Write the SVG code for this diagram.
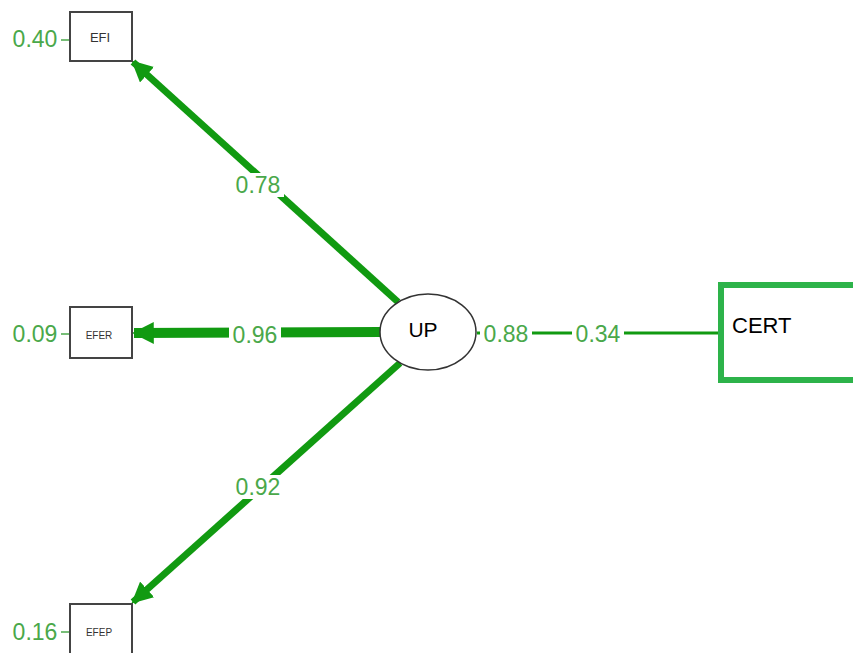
<svg xmlns="http://www.w3.org/2000/svg" width="853" height="653" viewBox="0 0 853 653">
<defs>
<style>
.box{fill:#fff;stroke:#444;stroke-width:2}
.lbl{font-family:"Liberation Sans",Arial,sans-serif;font-size:23px;fill:#4aa84a;text-anchor:middle;dominant-baseline:central}
.nm{font-family:"Liberation Sans",Arial,sans-serif;fill:#333;text-anchor:middle;dominant-baseline:central}
.arr{stroke:#119a11;fill:none}
.bg{fill:#fff}
</style>
<marker id="ah" viewBox="0 0 10 10" refX="9" refY="5" markerWidth="3" markerHeight="3" markerUnits="strokeWidth" orient="auto">
<path d="M0,0 L10,5 L0,10 Z" fill="#119a11"/>
</marker>
<marker id="ah2" viewBox="0 0 10 10" refX="9" refY="5" markerWidth="2.2" markerHeight="2.4" markerUnits="strokeWidth" orient="auto">
<path d="M0,0 L10,5 L0,10 Z" fill="#119a11"/>
</marker>
</defs>
<g id="connectors">
<line class="arr" x1="398" y1="302" x2="133" y2="62" stroke-width="7" marker-end="url(#ah)"/>
<line class="arr" x1="381" y1="332" x2="134" y2="333" stroke-width="10" marker-end="url(#ah2)"/>
<line class="arr" x1="400" y1="363" x2="133" y2="602" stroke-width="7" marker-end="url(#ah)"/>
<line class="arr" x1="477" y1="333" x2="719" y2="333" stroke-width="3"/>
<line stroke="#4aa84a" stroke-width="1.5" x1="61" y1="40" x2="70" y2="40"/>
<line stroke="#4aa84a" stroke-width="1.5" x1="61" y1="334" x2="70" y2="334"/>
<line stroke="#4aa84a" stroke-width="1.5" x1="61" y1="632" x2="70" y2="632"/>
<rect class="bg" x="232" y="173" width="52" height="24"/>
<text class="lbl" x="258" y="185">0.78</text>
<rect class="bg" x="229" y="323" width="52" height="24"/>
<text class="lbl" x="255" y="335">0.96</text>
<rect class="bg" x="232" y="475" width="52" height="24"/>
<text class="lbl" x="258" y="487">0.92</text>
<rect class="bg" x="480" y="322" width="52" height="24"/>
<text class="lbl" x="506" y="334">0.88</text>
<rect class="bg" x="572" y="322" width="52" height="24"/>
<text class="lbl" x="598" y="334">0.34</text>
</g>
<g id="EFI">
<rect class="box" x="70" y="12" width="62" height="49"/>
<text class="nm" x="100" y="37" font-size="13">EFI</text>
<text class="lbl" x="35" y="39">0.40</text>
</g>
<g id="EFER">
<rect class="box" x="70" y="307" width="62" height="51"/>
<text class="nm" x="99" y="335" font-size="10">EFER</text>
<text class="lbl" x="35" y="334">0.09</text>
</g>
<g id="EFEP">
<rect class="box" x="70" y="604" width="62" height="60"/>
<text class="nm" x="99" y="632" font-size="10">EFEP</text>
<text class="lbl" x="35" y="632">0.16</text>
</g>
<g id="UP">
<ellipse cx="428" cy="332" rx="48" ry="38" fill="#fff" stroke="#333" stroke-width="1.5"/>
<text class="nm" x="423" y="329" font-size="21" fill="#000" style="fill:#000">UP</text>
</g>
<g id="CERT">
<rect x="721" y="285" width="140" height="95" fill="#fff" stroke="#2db34a" stroke-width="6"/>
<text x="732" y="333" font-family="Liberation Sans,Arial,sans-serif" font-size="22" fill="#000">CERT</text>
</g>
</svg>
